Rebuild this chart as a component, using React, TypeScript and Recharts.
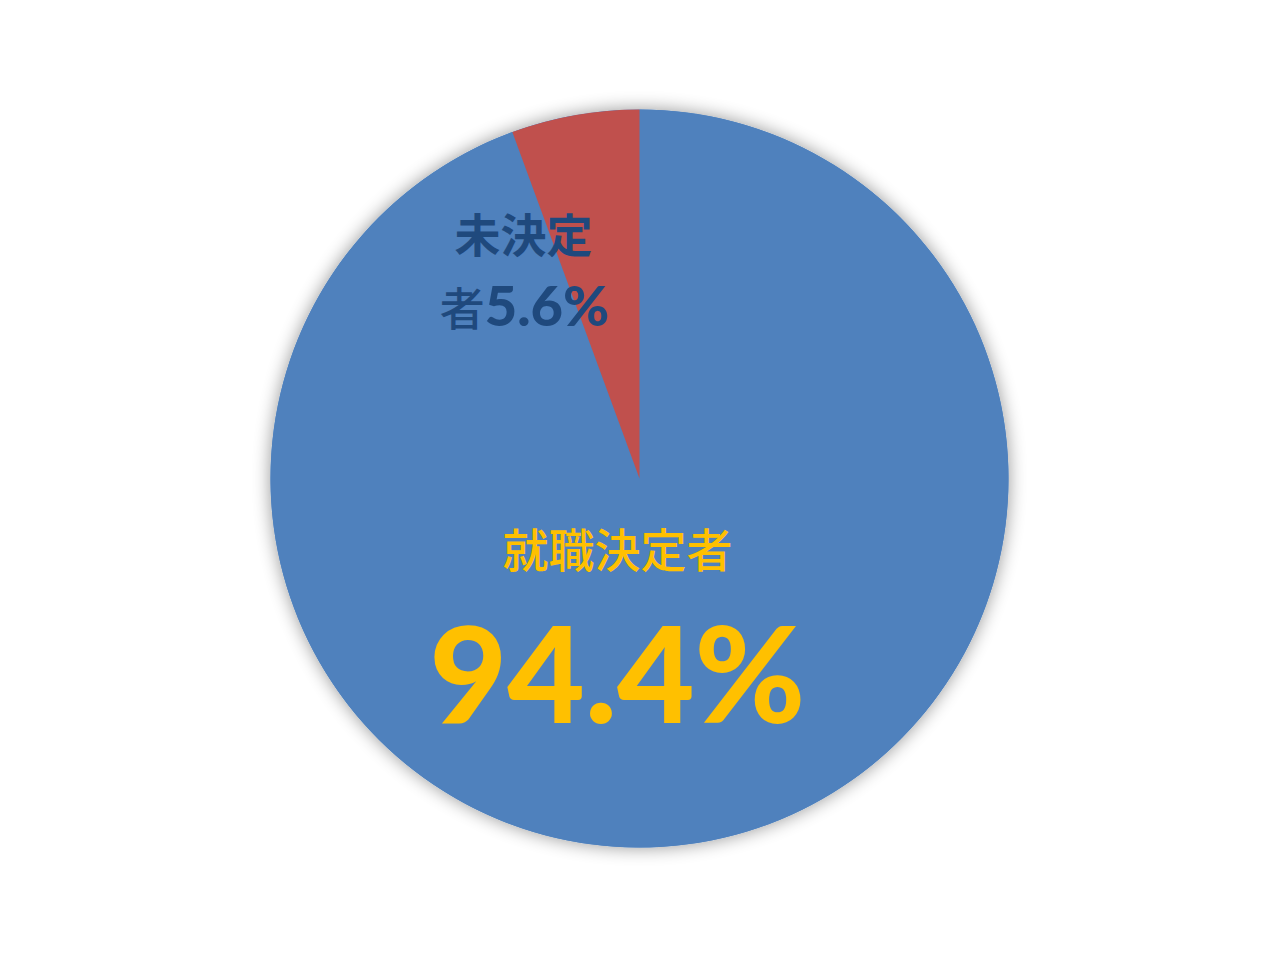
import React from 'react';
import { PieChart, Pie, Cell } from 'recharts';

const names = ['就職決定者', '未決定者'];
const values = [94.4, 5.6];
const colors = ['#4F81BD', '#C0504D'];

const data = names.map((name, i) => ({ name, value: values[i] }));
const backdrop = [{ name: 'all', value: 100 }];

const FONT = "Lato, 'Noto Sans CJK JP', sans-serif";
const CJK = "'Noto Sans CJK JP', sans-serif";

const renderLabel = (props: any) => {
  const { cx, cy, index, payload } = props;
  const name: string = payload.name;
  const pct = `${payload.value}%`;
  if (index === 0) {
    return (
      <g key="l0">
        <text x={cx - 22} y={cy + 88} textAnchor="middle" fill="#FFC000"
          fontFamily={CJK} fontWeight={500} fontSize={46}>{name}</text>
        <text x={cx - 22} y={cy + 244} textAnchor="middle" fill="#FFC000"
          fontFamily={FONT} fontWeight={900} fontSize={134}>{pct}</text>
      </g>
    );
  }
  return (
    <g key="l1">
      <text x={cx - 116} y={cy - 227} textAnchor="middle" fill="#1F497D"
        fontFamily={CJK} fontWeight={700} fontSize={46}>{name.slice(0, 3)}</text>
      <text x={cx - 115} y={cy - 153} textAnchor="middle" fill="#1F497D"
        fontFamily={FONT} fontWeight={900}>
        <tspan fontFamily={CJK} fontWeight={500} fontSize={45}>{name.slice(3)}</tspan>
        <tspan fontSize={56}>{pct}</tspan>
      </text>
    </g>
  );
};

const App: React.FC = () => {
  return (
    <div style={{ position: 'absolute', left: 0, top: 0, width: 1280, height: 960, background: '#fff' }}>
      <svg width={0} height={0} style={{ position: 'absolute' }}>
        <defs>
          <filter id="pieShadow" x="-10%" y="-10%" width="120%" height="120%">
            <feGaussianBlur in="SourceAlpha" stdDeviation="9" />
            <feComponentTransfer>
              <feFuncA type="linear" slope="0.42" />
            </feComponentTransfer>
            <feMerge>
              <feMergeNode />
              <feMergeNode in="SourceGraphic" />
            </feMerge>
          </filter>
        </defs>
      </svg>
      <PieChart width={1280} height={960} margin={{ top: 0, right: 0, bottom: 0, left: 0 }}>
        <Pie
          data={backdrop}
          dataKey="value"
          cx={639.5}
          cy={478.5}
          outerRadius={369}
          startAngle={90}
          endAngle={-270}
          stroke="none"
          isAnimationActive={false}
        >
          <Cell fill={colors[0]} style={{ filter: 'url(#pieShadow)' }} />
        </Pie>
        <Pie
          data={data}
          dataKey="value"
          cx={639.5}
          cy={478.5}
          outerRadius={369}
          startAngle={90}
          endAngle={-270}
          stroke="none"
          labelLine={false}
          label={renderLabel}
          isAnimationActive={false}
        >
          {data.map((d, i) => (
            <Cell key={d.name} fill={colors[i]} />
          ))}
        </Pie>
      </PieChart>
    </div>
  );
};

export default App;
